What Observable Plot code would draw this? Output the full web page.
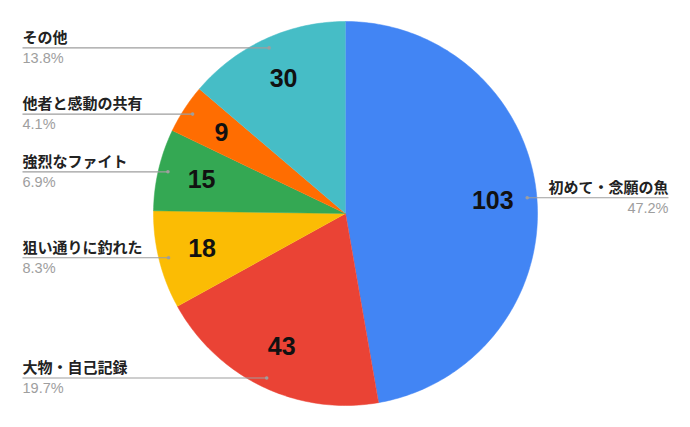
<!DOCTYPE html>
<html><head><meta charset="utf-8">
<script src="https://cdn.jsdelivr.net/npm/d3@7"></script>
<script src="https://cdn.jsdelivr.net/npm/@observablehq/plot@0.6"></script>
<style>body{margin:0;background:#fff}</style>
</head><body><div id="chart"></div>
<script>
const categories = ["初めて・念願の魚","大物・自己記録","狙い通りに釣れた","強烈なファイト","他者と感動の共有","その他"];
const values = [103, 43, 18, 15, 9, 30];
const percentLabels = ["47.2%","19.7%","8.3%","6.9%","4.1%","13.8%"];
const colors = ["#4285F4","#EA4335","#FBBC04","#34A853","#FF6D01","#46BDC6"];

const R = 192;          // pie radius in scale units (= px)
const labelEdge = 323;  // leader line ends
const arcs = d3.pie().sort(null).value(d => d)(values);

const slices = arcs.map(a => {
  const n = Math.max(2, Math.ceil((a.endAngle - a.startAngle) / (2 * Math.PI) * 360));
  const pts = [{x: 0, y: 0}];
  for (let k = 0; k <= n; k++) {
    const t = a.startAngle + (a.endAngle - a.startAngle) * k / n;
    pts.push({x: R * Math.sin(t), y: R * Math.cos(t)});
  }
  return pts;
});

const table = arcs.map((a, i) => {
  const m = (a.startAngle + a.endAngle) / 2;
  const left = Math.sin(m) < 0;
  return {
    name: categories[i], value: values[i], pct: percentLabels[i], left,
    nx: 0.77 * R * Math.sin(m), ny: 0.77 * R * Math.cos(m),
    dx: 0.95 * R * Math.sin(m), dy: 0.95 * R * Math.cos(m),
    ex: left ? -labelEdge : labelEdge
  };
});
const leftT = table.filter(d => d.left), rightT = table.filter(d => !d.left);
const cjk = "'Liberation Sans', 'Noto Sans CJK JP', sans-serif";

const marks = [
  ...slices.map((pts, i) => Plot.line(pts, {x: "x", y: "y", fill: colors[i], stroke: colors[i], strokeWidth: 0.5})),
  Plot.link(table, {x1: "dx", y1: "dy", x2: "ex", y2: "dy", stroke: "#9e9e9e", strokeWidth: 1.2}),
  Plot.dot(table, {x: "dx", y: "dy", r: 1.8, fill: "#9e9e9e", stroke: null}),
  Plot.text(table, {x: "nx", y: "ny", text: d => String(d.value), fontSize: 25, fontWeight: "bold", fill: "#111", fontFamily: "'Liberation Sans', Arial, sans-serif"}),
  Plot.text(leftT, {x: "ex", y: "dy", text: "name", textAnchor: "start", lineAnchor: "bottom", dy: -5, fontSize: 15, fontWeight: "bold", fill: "#222", fontFamily: cjk}),
  Plot.text(rightT, {x: "ex", y: "dy", text: "name", textAnchor: "end", lineAnchor: "bottom", dy: -5, fontSize: 15, fontWeight: "bold", fill: "#222", fontFamily: cjk}),
  Plot.text(leftT, {x: "ex", y: "dy", text: "pct", textAnchor: "start", lineAnchor: "top", dy: 5, fontSize: 14.5, fill: "#9e9e9e", fontFamily: "'Liberation Sans', Arial, sans-serif"}),
  Plot.text(rightT, {x: "ex", y: "dy", text: "pct", textAnchor: "end", lineAnchor: "top", dy: 5, fontSize: 14.5, fill: "#9e9e9e", fontFamily: "'Liberation Sans', Arial, sans-serif"})
];

const chart = Plot.plot({
  width: 690, height: 427, margin: 0,
  x: {domain: [-345, 345], axis: null},
  y: {domain: [-214, 213], axis: null},
  style: {background: "#fff", fontFamily: cjk},
  marks
});
document.getElementById("chart").append(chart);
</script>
</body></html>
